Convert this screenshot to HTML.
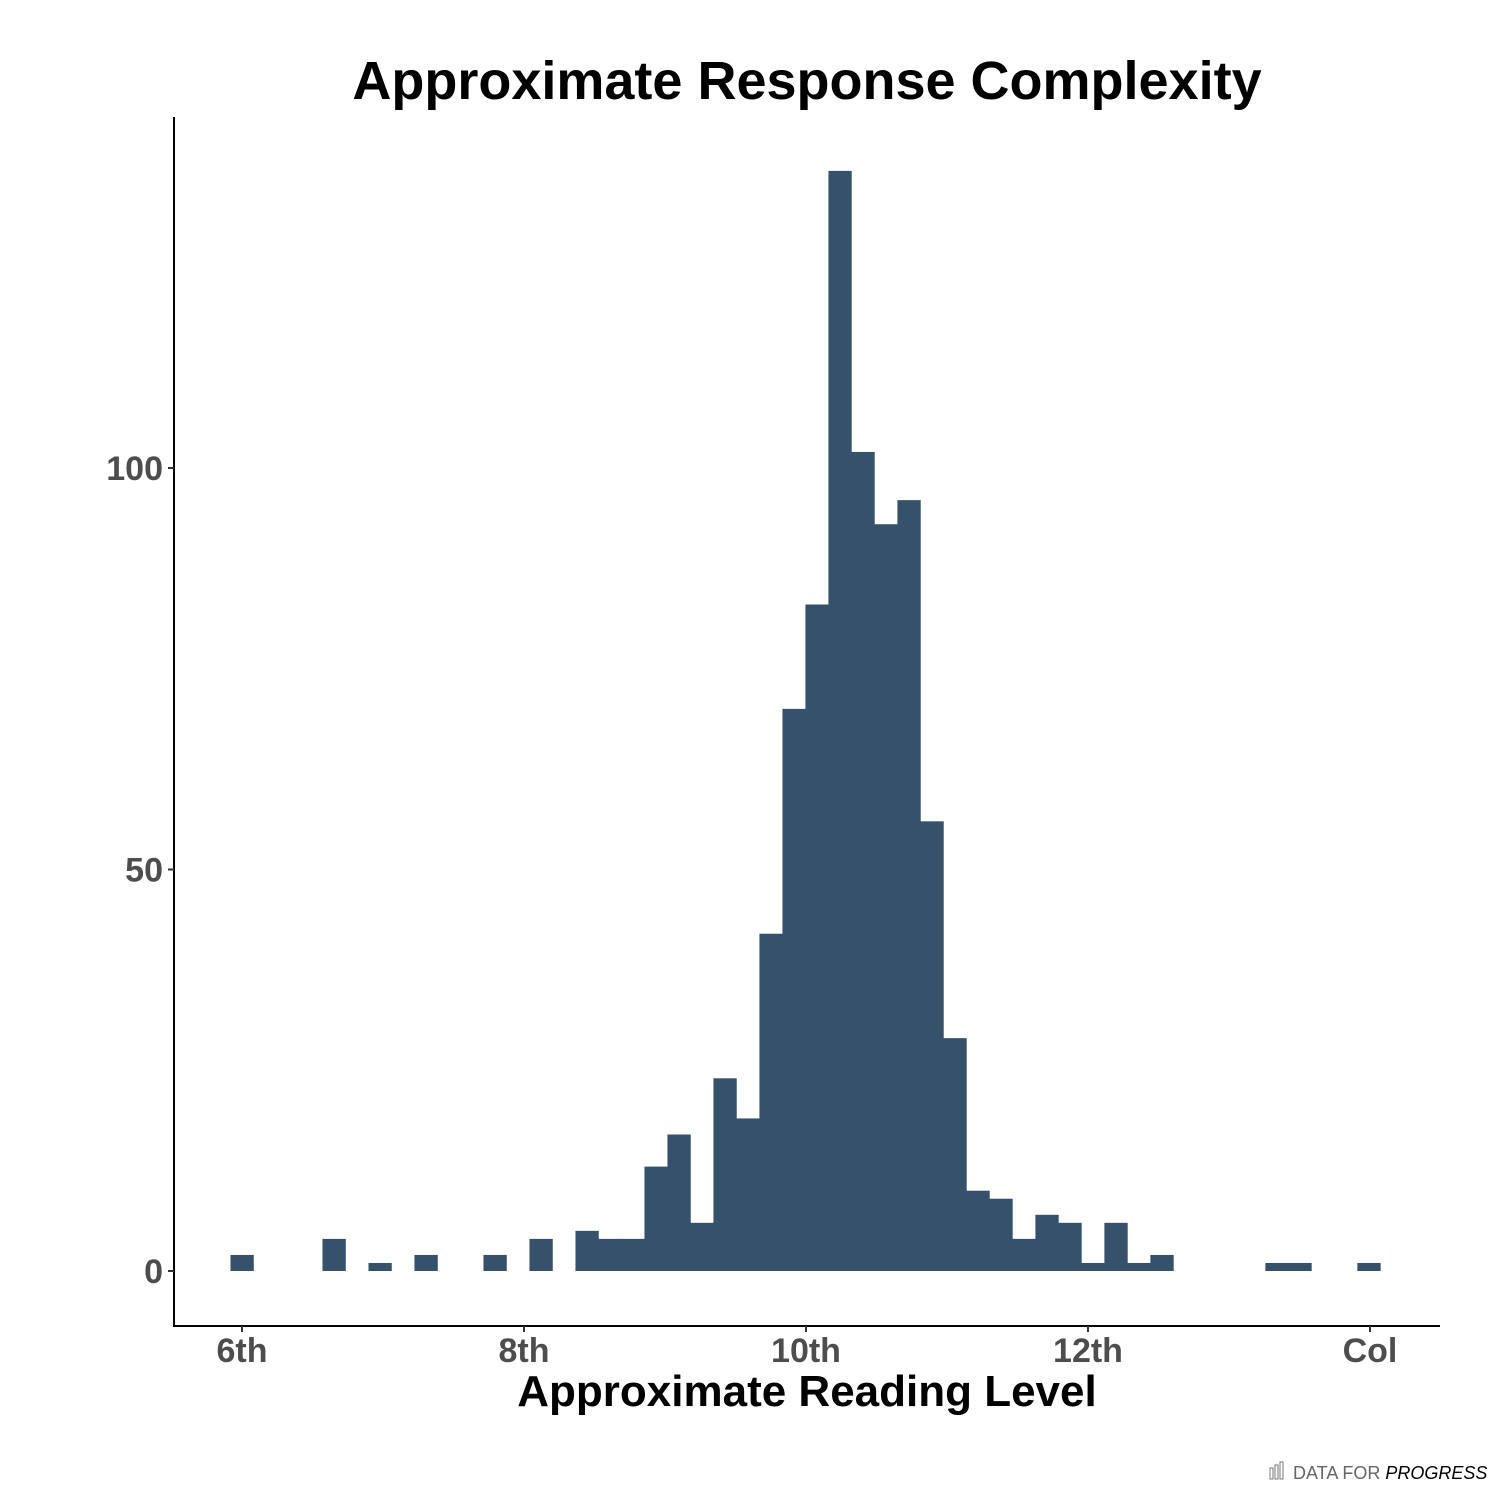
<!DOCTYPE html>
<html><head><meta charset="utf-8"><style>
body{margin:0;background:#fff;}
svg text{font-family:"Liberation Sans",sans-serif;}
</style></head><body>
<svg id="chart" width="1500" height="1500" xmlns="http://www.w3.org/2000/svg">
<text x="807" y="99" text-anchor="middle" font-size="54" font-weight="bold" fill="#000">Approximate Response Complexity</text>
<g id="bars"></g>
<g id="axes"></g>
<text x="807" y="1406" text-anchor="middle" font-size="44" font-weight="bold" fill="#000">Approximate Reading Level</text>
<g>
<rect x="1270" y="1468" width="3" height="11" fill="none" stroke="#777" stroke-width="1"/>
<rect x="1275" y="1465" width="3" height="14" fill="none" stroke="#777" stroke-width="1"/>
<rect x="1280" y="1462" width="3" height="17" fill="none" stroke="#777" stroke-width="1"/>
<text x="1293" y="1479" font-size="18" fill="#666">DATA FOR <tspan font-style="italic" fill="#000">PROGRESS</tspan></text>
</g>
</svg>
<script>
const binStart = 6;
const binWidth = 0.1631;
const counts = [2,0,0,0,4,0,1,0,2,0,0,2,0,4,0,5,4,4,13,17,6,24,19,42,70,83,137,102,93,96,56,29,10,9,4,7,6,1,6,1,2,0,0,0,0,1,1,0,0,1];
const yTicks = [0,50,100];
const xTickVals = [6,8,10,12,14];
const xTickLabels = ["6th","8th","10th","12th","Col"];
const NS="http://www.w3.org/2000/svg";
const xs = g => 242 + (g-6)*141;
const ys = v => 1271 - v*8.03;
const bars=document.getElementById('bars'), axes=document.getElementById('axes');
function mk(tag,attrs,parent){const e=document.createElementNS(NS,tag);for(const k in attrs)e.setAttribute(k,attrs[k]);parent.appendChild(e);return e;}
counts.forEach((c,i)=>{
  if(c<=0)return;
  const c0=binStart+(i-0.5)*binWidth, c1=binStart+(i+0.5)*binWidth;
  const r=mk('rect',{x:xs(c0),y:ys(c),width:xs(c1)-xs(c0)+0.3,height:ys(0)-ys(c),fill:'#36526b'},bars);
  
  
});
const ya=mk('line',{x1:174,y1:117,x2:174,y2:1327,stroke:'#000','stroke-width':2},axes);


const xa=mk('line',{x1:173,y1:1326,x2:1440,y2:1326,stroke:'#000','stroke-width':2},axes);


yTicks.forEach(v=>{
  mk('line',{x1:168,y1:ys(v),x2:174,y2:ys(v),stroke:'#333','stroke-width':2},axes);
  const t=mk('text',{x:163,y:ys(v)+12,'text-anchor':'end','font-size':34,'font-weight':'bold',fill:'#4d4d4d'},axes);
  t.textContent=v;
  
  
});
xTickVals.forEach((v,i)=>{
  mk('line',{x1:xs(v),y1:1326,x2:xs(v),y2:1332,stroke:'#333','stroke-width':2},axes);
  const t=mk('text',{x:xs(v),y:1362,'text-anchor':'middle','font-size':34,'font-weight':'bold',fill:'#4d4d4d'},axes);
  t.textContent=xTickLabels[i];
  
  
});
</script>
</body></html>
